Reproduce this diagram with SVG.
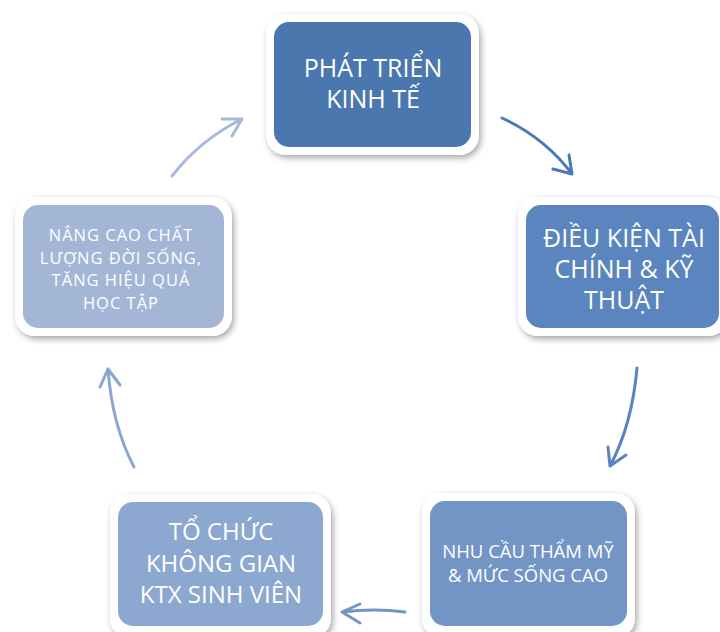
<svg xmlns="http://www.w3.org/2000/svg" width="720" height="632" viewBox="0 0 720 632">
<defs>
<filter id="sh" x="-10%" y="-10%" width="125%" height="130%">
<feDropShadow dx="2" dy="3" stdDeviation="3" flood-color="#000" flood-opacity="0.35"/>
</filter>
</defs>
<style>
.frame{fill:#fff;filter:url(#sh)}
.t{font-family:"Open Sans",sans-serif;fill:#fff;text-anchor:middle}
.big{font-size:25px}
.k{font-size:24px}
.mid{font-size:18.5px}
.sm{font-size:16.5px;letter-spacing:1px}
.c{fill:none;stroke-width:3;stroke-linecap:round;stroke-linejoin:round}
</style>
<rect width="720" height="632" fill="#fff"/>
<g id="n1">
<rect class="frame" x="266" y="14" width="213" height="141" rx="20"/>
<rect x="274" y="22" width="197" height="125" rx="15" fill="#4a77ae"/>
<text class="t big" x="373" y="77">PHÁT TRIỂN</text>
<text class="t big" x="373" y="108">KINH TẾ</text>
</g>
<g id="n2">
<rect class="frame" x="518" y="197" width="210" height="139" rx="20"/>
<rect x="526" y="205" width="193" height="123" rx="15" fill="#5a85be"/>
<text class="t big" x="624" y="247">ĐIỀU KIỆN TÀI</text>
<text class="t big" x="624" y="278">CHÍNH &amp; KỸ</text>
<text class="t big" x="624" y="309">THUẬT</text>
</g>
<g id="n3">
<rect class="frame" x="15" y="197" width="217" height="139" rx="20"/>
<rect x="23" y="205" width="201" height="123" rx="15" fill="#a3b6d6"/>
<text class="t sm" x="121" y="241">NÂNG CAO CHẤT</text>
<text class="t sm" x="121" y="263.5">LƯỢNG ĐỜI SỐNG,</text>
<text class="t sm" x="121" y="286">TĂNG HIỆU QUẢ</text>
<text class="t sm" x="121" y="308.5">HỌC TẬP</text>
</g>
<g id="n4">
<rect class="frame" x="422" y="493" width="213" height="145" rx="20"/>
<rect x="430" y="501" width="197" height="125" rx="15" fill="#7295c5"/>
<text class="t mid" x="528" y="558">NHU CẦU THẨM MỸ</text>
<text class="t mid" x="528" y="582">&amp; MỨC SỐNG CAO</text>
</g>
<g id="n5">
<rect class="frame" x="110" y="494" width="221" height="144" rx="20"/>
<rect x="118" y="502" width="205" height="124" rx="15" fill="#8ca8d0"/>
<text class="t k" x="221" y="540">TỔ CHỨC</text>
<text class="t k" x="221" y="572">KHÔNG GIAN</text>
<text class="t k" x="221" y="603">KTX SINH VIÊN</text>
</g>
<g id="connectors">
<path class="c" stroke="#4a7ab8" d="M502,118 Q545,138 572,174 M553,169 L572,174 L569,155"/>
<path class="c" stroke="#5a84bf" d="M637,368 Q632,425 610,466 M608,447 L610,466 L626,455"/>
<path class="c" stroke="#7495c6" d="M405,612 Q375,608 342,612 M360,604 L342,612 L360,623"/>
<path class="c" stroke="#8aa7d0" d="M134,467 Q112,425 108,369 M100,387 L108,369 L120,385"/>
<path class="c" stroke="#a5b9dc" d="M172,176 Q200,140 242,119 M222,119 L242,119 L232,136"/>
</g>
</svg>
